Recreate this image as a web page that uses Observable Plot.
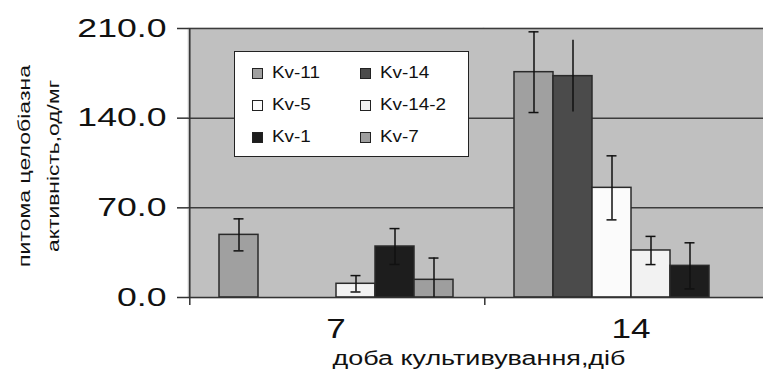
<!DOCTYPE html>
<html><head><meta charset="utf-8">
<script src="https://cdn.jsdelivr.net/npm/d3@7"></script>
<script src="https://cdn.jsdelivr.net/npm/@observablehq/plot@0.6"></script>
<style>
html,body{margin:0;padding:0;background:#fff;overflow:hidden}
#wrap{position:relative;width:763px;height:374px;overflow:hidden;font-family:"Liberation Sans",Arial,sans-serif}
#wrap svg{position:absolute;left:0;top:0;max-width:none !important;height:374px !important}
#legend{position:absolute;left:234px;top:51px;width:235px;height:106px;box-sizing:border-box;border:1.5px solid #222;background:#fff;display:grid;grid-template-columns:108px 108px;grid-auto-rows:32px;padding:5px 0 0 17px}
.item{display:flex;align-items:center}
.sw{width:9px;height:9px;border:1px solid #222;margin-right:9px;flex:none}
.lab{font-size:16px;display:inline-block;transform:scaleX(1.18);transform-origin:left center;color:#111;white-space:nowrap}
</style></head><body><div id="wrap"><div id="legend"></div></div>
<script>
const days = ["7", "14"];
const strains = ["Kv-11", "Kv-14", "Kv-5", "Kv-14-2", "Kv-1", "Kv-7"];
const colors = ["#a0a0a0", "#4b4b4b", "#fbfbfb", "#f2f2f2", "#1d1d1d", "#9e9e9e"];
const values7 = [48.9, 0, 0, 10.7, 39.8, 13.8];
const errors7 = [12.5, 0, 0, 6.4, 14, 17];
const values14 = [175.9, 172.8, 85.6, 36.7, 24.7, 0];
const errors14 = [31.5, 28, 25, 11, 18, 0];
const capless = ["14|Kv-14"];
const yTicks = [0, 70, 140, 210];
const yTitle = ["питома целобіазна", "активність,од/мг"];
const xTitle = "доба культивування,діб";
const FONT = "'Liberation Sans', Arial, sans-serif";

const rows = [];
days.forEach((day, di) => strains.forEach((s, si) => {
  const v = [values7, values14][di][si];
  const e = [errors7, errors14][di][si];
  rows.push({day, strain: s, value: v, err: e, color: colors[si],
    lo: Math.max(0, v - e), hi: v + e, loCap: v - e >= 0,
    cap: !capless.includes(day + "|" + s)});
}));
const bars = rows.filter(r => r.value > 0);
const errs = rows.filter(r => r.err > 0);

const chart = Plot.plot({
  width: 780, height: 374,
  marginLeft: 188, marginRight: 2, marginTop: 28, marginBottom: 77,
  style: {fontFamily: FONT, color: "#111", background: "transparent", overflow: "visible", maxWidth: "none"},
  fx: {domain: days, padding: 0},
  x: {domain: strains, paddingInner: 0, paddingOuter: 0.75, axis: null},
  y: {domain: [0, 210]},
  marks: [
    Plot.frame({fill: "#c0c0c0", stroke: "#c0c0c0", strokeWidth: 1.5}),
    Plot.gridY(yTicks.filter(t => t > 0), {stroke: "#3c3c3c", strokeOpacity: 1, strokeWidth: 1.5}),
    Plot.barY(bars, {fx: "day", x: "strain", y: "value", fill: "color", stroke: "#2a2a2a", strokeWidth: 1.5}),
    Plot.ruleX(errs, {fx: "day", x: "strain", y1: "lo", y2: "hi", stroke: "#111", strokeWidth: 1.5}),
    Plot.tickY(errs.filter(r => r.cap), {fx: "day", x: "strain", y: "hi", insetLeft: 14.5, insetRight: 14.5, stroke: "#111", strokeWidth: 1.5}),
    Plot.tickY(errs.filter(r => r.cap && r.loCap), {fx: "day", x: "strain", y: "lo", insetLeft: 14.5, insetRight: 14.5, stroke: "#111", strokeWidth: 1.5}),
    Plot.ruleY([0], {stroke: "#333", strokeWidth: 1.5}),
    Plot.ruleX([days[0]], {fx: d => d, x: () => strains[0], dx: -49.2, insetBottom: -8, stroke: "#333", strokeWidth: 1.5}),
    Plot.ruleX([days[1]], {fx: d => d, x: () => strains[0], dx: -49.2, y1: () => 0, y2: () => 0, insetTop: 8, stroke: "#333", strokeWidth: 1.5}),
    Plot.axisY({ticks: yTicks, tickFormat: d => d.toFixed(1), tickSize: 11, tickPadding: 11, fontSize: 26, label: null, stroke: "#333", strokeWidth: 1.5}),
    Plot.axisFx({anchor: "bottom", tickSize: 0, tickPadding: 21, fontSize: 27, label: null})
  ]
});

const wrap = document.getElementById("wrap");
const legend = document.getElementById("legend");
wrap.insertBefore(chart, legend);

const svg = d3.select(chart);
function stretch(sel, f) {
  sel.each(function() {
    const L = this.getComputedTextLength();
    if (L > 0) {
      this.setAttribute("textLength", L * f);
      this.setAttribute("lengthAdjust", "spacingAndGlyphs");
    }
  });
}
stretch(svg.selectAll('g[aria-label="y-axis tick label"] text'), 1.37);
stretch(svg.selectAll('g[aria-label="fx-axis tick label"] text'), 1.3);

const tg = svg.append("g").attr("font-family", FONT).attr("fill", "#111");
const yPos = [24.5, 53], yLen = [202, 172];
yTitle.forEach((t, i) => {
  tg.append("text")
    .attr("transform", `translate(${yPos[i]},166) rotate(-90)`)
    .attr("text-anchor", "middle").attr("dominant-baseline", "central")
    .attr("font-size", 17).attr("textLength", yLen[i]).attr("lengthAdjust", "spacingAndGlyphs")
    .text(t);
});
tg.append("text").attr("x", 479).attr("y", 365).attr("text-anchor", "middle")
  .attr("font-size", 20).attr("textLength", 293).attr("lengthAdjust", "spacingAndGlyphs")
  .text(xTitle);

strains.forEach((s, i) => {
  const it = document.createElement("div");
  it.className = "item";
  it.innerHTML = `<span class="sw" style="background:${colors[i]}"></span><span class="lab"></span>`;
  it.querySelector(".lab").textContent = s;
  legend.appendChild(it);
});
</script></body></html>
